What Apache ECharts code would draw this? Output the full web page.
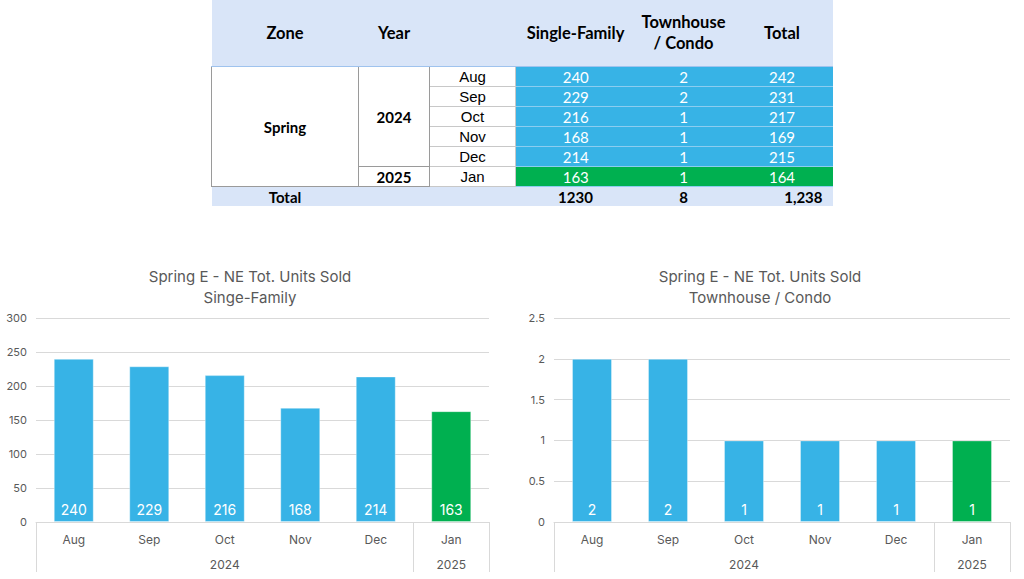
<!DOCTYPE html>
<html>
<head>
<meta charset="utf-8">
<script src="https://cdn.jsdelivr.net/npm/echarts@6/dist/echarts.min.js"></script>
<style>
html,body{margin:0;padding:0;background:#fff;width:1024px;height:579px;overflow:hidden}
#chart{position:absolute;left:0;top:0;width:1024px;height:579px}
#tbl{position:absolute;left:211px;top:0;width:621px;border-collapse:collapse;table-layout:fixed;font-family:Lato,'Open Sans',sans-serif;color:#000}
#tbl td,#tbl th{padding:0;margin:0;text-align:center;vertical-align:middle;overflow:hidden;white-space:nowrap}
#tbl tr.hd th{height:66px;background:#d9e5f8;font-weight:700;font-size:16.5px;line-height:21px;border-bottom:1px solid #9fc3ee}
#tbl tr.row td{height:19px;font-size:15px;line-height:18px}
#tbl td.zone,#tbl td.year{font-weight:700;font-size:16px;border:1px solid #9a9a9a;background:#fff}
#tbl td.month{font-family:'Liberation Sans',Arial,sans-serif;font-size:14px;border:1px solid #c8c8c8;background:#fff}
#tbl td.num{color:#fff;border-bottom:1px solid #8ccdf0;font-weight:400}
#tbl td.blue{background:#37b3e6}
#tbl td.green{background:#00b050}
#tbl tr.tot td{height:19px;line-height:18px;background:#d9e5f8;font-weight:700;font-size:15px;border-top:1px solid #9fc3ee}
#tbl tr.tot td.r{text-align:right;padding-right:10px}
</style>
</head>
<body>
<div id="chart"></div>
<table id="tbl"></table>
<script>
// ---- data ----
const zoneName = 'Spring';
const tableHeaders = ['Zone', 'Year', '', 'Single-Family', 'Townhouse<br>/ Condo', 'Total'];
const months = ['Aug', 'Sep', 'Oct', 'Nov', 'Dec', 'Jan'];
const monthYears = ['2024', '2024', '2024', '2024', '2024', '2025'];
const singleFamily = [240, 229, 216, 168, 214, 163];
const townhouseCondo = [2, 2, 1, 1, 1, 1];
const rowTotals = [242, 231, 217, 169, 215, 164];
const totalLabel = 'Total';
const columnTotals = ['1230', '8', '1,238'];
const sfTitle = 'Spring E - NE Tot. Units Sold\nSinge-Family';
const thTitle = 'Spring E - NE Tot. Units Sold\nTownhouse / Condo';
const sfAxis = { min: 0, max: 300, interval: 50 };
const thAxis = { min: 0, max: 2.5, interval: 0.5 };

// ---- styles ----
const BLUE = '#37b3e6', GREEN = '#00b050', TXT = '#595959', GRIDC = '#d9d9d9';
const FONT = "Inter, 'Noto Sans', sans-serif";
const latestYear = monthYears[monthYears.length - 1];

// ---- table ----
(function buildTable() {
  const colW = [147, 71, 86, 120, 96, 101];
  let h = '<colgroup>' + colW.map(w => `<col style="width:${w}px">`).join('') + '</colgroup>';
  h += '<tr class="hd">' + tableHeaders.map(t => `<th>${t}</th>`).join('') + '</tr>';
  for (let i = 0; i < months.length; i++) {
    h += '<tr class="row">';
    if (i === 0) h += `<td class="zone" rowspan="${months.length}">${zoneName}</td>`;
    if (i === 0 || monthYears[i] !== monthYears[i - 1]) {
      const span = monthYears.filter(y => y === monthYears[i]).length;
      h += `<td class="year" rowspan="${span}">${monthYears[i]}</td>`;
    }
    h += `<td class="month">${months[i]}</td>`;
    const cls = monthYears[i] === latestYear ? 'green' : 'blue';
    [singleFamily[i], townhouseCondo[i], rowTotals[i]].forEach(v => { h += `<td class="num ${cls}">${v}</td>`; });
    h += '</tr>';
  }
  h += `<tr class="tot"><td>${totalLabel}</td><td></td><td></td><td>${columnTotals[0]}</td><td>${columnTotals[1]}</td><td class="r">${columnTotals[2]}</td></tr>`;
  document.getElementById('tbl').innerHTML = h;
})();

// ---- year groups for the two-level axis ----
const groups = [];
monthYears.forEach((y, i) => {
  const g = groups[groups.length - 1];
  if (g && g.year === y) g.end = i + 1; else groups.push({ year: y, start: i, end: i + 1 });
});
const groupTicks = [0].concat(groups.map(g => g.end));
const groupCenters = groups.map(g => (g.start + g.end) / 2);
const groupLabel = v => { const g = groups.find(g => Math.abs((g.start + g.end) / 2 - v) < 1e-6); return g ? g.year : ''; };

const chart = echarts.init(document.getElementById('chart'), null, { renderer: 'svg' });

function monthAxis(gi) {
  return {
    type: 'category', gridIndex: gi, data: months, position: 'bottom',
    axisLine: { show: true, lineStyle: { color: GRIDC, width: 1 } },
    axisTick: { show: false },
    axisLabel: { color: TXT, fontSize: 12, fontFamily: FONT, margin: 11 },
    splitLine: { show: false }
  };
}
function yearAxis(gi) {
  return {
    type: 'value', gridIndex: gi, min: 0, max: months.length, position: 'bottom',
    axisLine: { show: false },
    axisTick: { show: true, customValues: groupTicks, length: 50, lineStyle: { color: GRIDC, width: 1 } },
    axisLabel: { show: true, customValues: groupCenters, formatter: groupLabel, color: TXT, fontSize: 12, fontFamily: FONT, margin: 36 },
    splitLine: { show: false }
  };
}
function valAxis(gi, a) {
  return {
    type: 'value', gridIndex: gi, min: a.min, max: a.max, interval: a.interval,
    axisLine: { show: false }, axisTick: { show: false },
    axisLabel: { color: TXT, fontSize: 11, fontFamily: FONT, margin: 9 },
    splitLine: { lineStyle: { color: GRIDC, width: 1 } }
  };
}
function barSeries(gi, values) {
  return {
    type: 'bar', xAxisIndex: gi * 2, yAxisIndex: gi, data: values, barWidth: 40,
    itemStyle: {
      color: p => monthYears[p.dataIndex] === latestYear ? GREEN : BLUE,
      borderColor: 'rgba(255,255,255,0.35)', borderWidth: 1
    },
    label: { show: true, position: 'insideBottom', distance: 6, color: '#fff', fontSize: 14, fontFamily: FONT },
    emphasis: { disabled: true }, animation: false
  };
}

chart.setOption({
  animation: false,
  grid: [
    { left: 36, right: 535, top: 318, bottom: 57, containLabel: false },
    { left: 554, right: 14, top: 318, bottom: 57, containLabel: false }
  ],
  xAxis: [monthAxis(0), yearAxis(0), monthAxis(1), yearAxis(1)],
  yAxis: [valAxis(0, sfAxis), valAxis(1, thAxis)],
  series: [barSeries(0, singleFamily), barSeries(1, townhouseCondo)],
  graphic: [
    { type: 'text', x: 250, y: 266, style: { text: sfTitle, align: 'center', verticalAlign: 'top', fontSize: 15, lineHeight: 21, fill: TXT, fontFamily: FONT } },
    { type: 'text', x: 760, y: 266, style: { text: thTitle, align: 'center', verticalAlign: 'top', fontSize: 15, lineHeight: 21, fill: TXT, fontFamily: FONT } }
  ]
});
</script>
</body>
</html>
